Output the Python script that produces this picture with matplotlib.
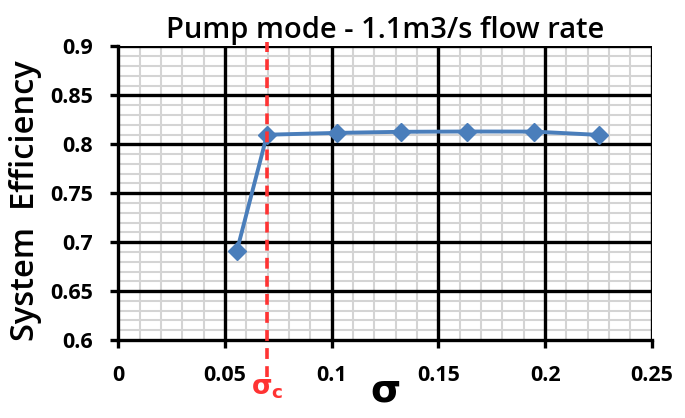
import matplotlib
matplotlib.use("Agg")
import matplotlib.pyplot as plt

# data
sigma = [0.0555, 0.0697, 0.1027, 0.1326, 0.1636, 0.1950, 0.2253]
efficiency = [0.6905, 0.8098, 0.8117, 0.8128, 0.8131, 0.8130, 0.8096]
sigma_c = 0.0697

title = "Pump mode - 1.1m3/s flow rate"
xticks = [0, 0.05, 0.1, 0.15, 0.2, 0.25]
xticklabels = ["0", "0.05", "0.1", "0.15", "0.2", "0.25"]
yticks = [0.6, 0.65, 0.7, 0.75, 0.8, 0.85, 0.9]
yticklabels = ["0.6", "0.65", "0.7", "0.75", "0.8", "0.85", "0.9"]

plt.rcParams["font.family"] = ["Open Sans", "DejaVu Sans"]

fig = plt.figure(figsize=(6.85, 4.18), dpi=100)
ax = fig.add_axes([0.1727, 0.1866, 0.7788, 0.7022])

ax.set_xlim(0, 0.25)
ax.set_ylim(0.6, 0.9)
ax.set_xticks(xticks)
ax.set_xticklabels(xticklabels)
ax.set_yticks(yticks)
ax.set_yticklabels(yticklabels)

# grid drawn by hand so the light lines stay under the black ones
xminor = [i / 100 for i in range(1, 25) if i % 5]
yminor = [i / 100 for i in range(61, 90) if i % 5]
for x in xminor:
    ax.axvline(x, color="#d4d4d4", linewidth=1.5, zorder=0.5)
for y in yminor:
    ax.axhline(y, color="#d4d4d4", linewidth=1.5, zorder=0.5)
for x in xticks[1:]:
    ax.axvline(x, color="black", linewidth=2.4, zorder=0.8)
for y in yticks[1:]:
    ax.axhline(y, color="black", linewidth=2.4, zorder=0.8)

for s in ["top", "right"]:
    ax.spines[s].set_visible(False)
for s in ["left", "bottom"]:
    ax.spines[s].set_linewidth(2.4)

ax.tick_params(which="major", direction="out", length=6, width=2.4,
               labelsize=15.5, pad=12)
for lab in ax.get_xticklabels() + ax.get_yticklabels():
    lab.set_fontweight("bold")

ax.plot(sigma, efficiency, color="#4a7ebb", linewidth=2.8, marker="D",
        markersize=9, zorder=4)

# critical sigma marker
ax.plot([sigma_c, sigma_c], [0.5625, 0.905], color="#ff3333", linewidth=2.6,
        linestyle=(0, (3, 2)), clip_on=False, zorder=5)
ax.text(sigma_c, 0.55, r"$\mathbf{\sigma_c}$", color="#ff3333", fontsize=19,
        ha="center", va="center", clip_on=False)

ax.set_title(title, fontsize=21, fontweight="semibold", pad=6)
ax.set_ylabel("System  Efficiency", fontsize=23.5, fontweight="semibold")
ax.yaxis.set_label_coords(-0.143, 0.475)
ax.set_xlabel(r"$\mathbf{\sigma}$", fontsize=28, labelpad=-10)

fig.savefig("out.png", dpi=100)
